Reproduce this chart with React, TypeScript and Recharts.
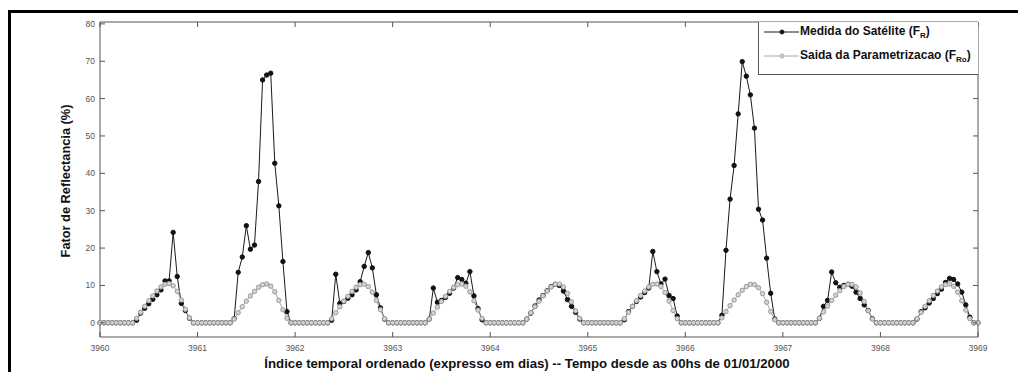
import { LineChart, Line, XAxis, YAxis } from "recharts"

// hourly values (h0..h23) per day
const days = [3960, 3961, 3962, 3963, 3964, 3965, 3966, 3967, 3968]

const sat3960 = [0, 0, 0, 0, 0, 0, 0, 0, 0, 0.7, 2.6, 3.9, 5.1, 6.3, 7.5, 8.8, 11.2, 11.2, 24.2, 12.4, 5.2, 3.3, 1.2, 0]
const sat3961 = [0, 0, 0, 0, 0, 0, 0, 0, 0, 1.1, 13.5, 17.6, 26.0, 19.7, 20.8, 37.8, 65.0, 66.3, 66.8, 42.7, 31.3, 16.4, 3.0, 0]
const sat3962 = [0, 0, 0, 0, 0, 0, 0, 0, 0, 0.7, 13.0, 5.2, 5.7, 6.6, 7.5, 8.8, 11.0, 15.1, 18.8, 14.7, 7.5, 4.0, 1.0, 0]
const sat3963 = [0, 0, 0, 0, 0, 0, 0, 0, 0, 1.0, 9.3, 5.5, 6.0, 6.8, 7.9, 9.3, 12.1, 11.6, 10.6, 13.7, 7.2, 3.8, 0.8, 0]
const sat3964 = [0, 0, 0, 0, 0, 0, 0, 0, 0, 1.0, 2.6, 4.5, 6.1, 7.3, 8.6, 9.7, 10.3, 10.0, 8.5, 6.2, 4.4, 2.8, 1.0, 0]
const sat3965 = [0, 0, 0, 0, 0, 0, 0, 0, 0, 0.8, 3.0, 4.4, 5.7, 6.9, 8.1, 9.3, 19.1, 13.7, 10.4, 11.7, 7.3, 6.5, 1.8, 0]
const sat3966 = [0, 0, 0, 0, 0, 0, 0, 0, 0, 2.0, 19.4, 33.1, 42.1, 55.9, 69.9, 66.0, 61.0, 52.1, 30.4, 27.5, 17.3, 7.9, 1.0, 0]
const sat3967 = [0, 0, 0, 0, 0, 0, 0, 0, 0, 1.2, 4.4, 6.0, 13.6, 10.7, 9.5, 10.0, 10.3, 9.8, 8.2, 6.5, 4.8, 3.3, 1.1, 0]
const sat3968 = [0, 0, 0, 0, 0, 0, 0, 0, 0, 1.0, 3.0, 4.0, 5.3, 6.5, 7.8, 9.0, 10.8, 11.9, 11.6, 10.4, 8.2, 4.8, 1.5, 0]

const par3960 = [0, 0, 0, 0, 0, 0, 0, 0, 0, 1.2, 2.8, 4.4, 5.9, 7.2, 8.5, 9.6, 10.3, 10.5, 9.9, 8.4, 6.1, 3.6, 1.3, 0]
const par3961 = [0, 0, 0, 0, 0, 0, 0, 0, 0, 1.0, 2.7, 4.3, 5.8, 7.2, 8.4, 9.5, 10.2, 10.4, 9.8, 8.3, 6.0, 3.5, 1.2, 0]
const par3962 = [0, 0, 0, 0, 0, 0, 0, 0, 0, 1.1, 2.7, 4.3, 5.8, 7.1, 8.4, 9.5, 10.2, 10.3, 9.7, 8.2, 6.0, 3.5, 1.1, 0]
const par3963 = [0, 0, 0, 0, 0, 0, 0, 0, 0, 1.0, 2.6, 4.2, 5.7, 7.1, 8.4, 9.5, 10.2, 10.4, 9.8, 8.3, 5.9, 3.4, 1.2, 0]
const par3964 = [0, 0, 0, 0, 0, 0, 0, 0, 0, 1.0, 2.7, 4.3, 5.8, 7.2, 8.5, 9.6, 10.3, 10.4, 9.6, 7.9, 5.6, 3.2, 1.2, 0]
const par3965 = [0, 0, 0, 0, 0, 0, 0, 0, 0, 1.1, 2.8, 4.4, 5.9, 7.3, 8.5, 9.6, 10.3, 10.4, 9.7, 8.1, 5.8, 3.3, 1.1, 0]
const par3966 = [0, 0, 0, 0, 0, 0, 0, 0, 0, 1.3, 3.0, 4.6, 6.1, 7.5, 8.7, 9.7, 10.3, 10.2, 9.4, 7.8, 5.5, 3.0, 0.8, 0]
const par3967 = [0, 0, 0, 0, 0, 0, 0, 0, 0, 1.2, 2.9, 4.5, 6.0, 7.4, 8.6, 9.7, 10.3, 10.3, 9.6, 8.0, 5.7, 3.2, 1.0, 0]
const par3968 = [0, 0, 0, 0, 0, 0, 0, 0, 0, 1.1, 2.8, 4.4, 5.9, 7.3, 8.5, 9.6, 10.2, 10.4, 9.8, 8.2, 5.9, 3.4, 1.1, 0]

const satByDay = [sat3960, sat3961, sat3962, sat3963, sat3964, sat3965, sat3966, sat3967, sat3968]
const parByDay = [par3960, par3961, par3962, par3963, par3964, par3965, par3966, par3967, par3968]

const xTicks = [3960, 3961, 3962, 3963, 3964, 3965, 3966, 3967, 3968, 3969]
const yTicks = [0, 10, 20, 30, 40, 50, 60, 70, 80]

const data = days
  .flatMap((day, d) =>
    satByDay[d].map((v, h) => ({ t: day + h / 24, sat: v, par: parByDay[d][h] }))
  )
  .concat([{ t: 3969, sat: 0, par: 0 }])

const font = "'Liberation Sans', Arial, Helvetica, sans-serif"
const frame = "#555"
const tickFill = "#555"

const BottomTick = ({ x, y, payload }: any) => (
  <g>
    <line x1={x} x2={x} y1={y} y2={y - 5} stroke={frame} />
    <text x={x} y={y + 14} textAnchor="middle" fontSize={8.5} fill={tickFill} fontFamily={font}>
      {payload.value}
    </text>
  </g>
)

const TopTick = ({ x, y }: any) => <line x1={x} x2={x} y1={y} y2={y + 5} stroke={frame} />

const LeftTick = ({ x, y, payload }: any) => (
  <g>
    <line x1={x} x2={x + 5} y1={y} y2={y} stroke={frame} />
    <text x={x - 5} y={y + 3} textAnchor="end" fontSize={8.5} fill={tickFill} fontFamily={font}>
      {payload.value}
    </text>
  </g>
)

const RightTick = ({ x, y }: any) => <line x1={x} x2={x - 5} y1={y} y2={y} stroke={frame} />

function LegendRow({ top, color, fill, label, sub }: any) {
  return (
    <div style={{ position: "absolute", left: 0, top, height: 14, display: "flex", alignItems: "center" }}>
      <svg width={37} height={14} style={{ marginLeft: 4 }}>
        <line x1={1} x2={36} y1={7} y2={7} stroke={color} strokeWidth={1} />
        <circle cx={19} cy={7} r={2} fill={fill} stroke={color} />
      </svg>
      <span style={{ fontSize: 12, fontWeight: "bold", color: "#111", fontFamily: font, whiteSpace: "nowrap" }}>
        {label} (F<sub style={{ fontSize: 8 }}>{sub}</sub>)
      </span>
    </div>
  )
}

export default function App() {
  return (
    <div style={{ position: "fixed", left: 0, top: 0, width: 1018, height: 372, overflow: "hidden", background: "#fff" }}>
      <div
        style={{
          position: "absolute",
          left: 8,
          top: 10,
          width: 1100,
          height: 400,
          borderLeft: "3px solid #000",
          borderTop: "3px solid #000",
        }}
      />
      <div style={{ position: "absolute", left: 0, top: 0 }}>
        <LineChart width={1018} height={372} data={data} margin={{ top: 21, right: 39, bottom: 15, left: 70 }}>
          <XAxis
            dataKey="t"
            type="number"
            domain={[3960, 3969]}
            ticks={xTicks}
            interval={0}
            height={20}
            tickSize={0}
            tickMargin={0}
            tickLine={false}
            axisLine={{ stroke: frame }}
            tick={BottomTick}
          />
          <XAxis
            xAxisId="t"
            orientation="top"
            dataKey="t"
            type="number"
            domain={[3960, 3969]}
            ticks={xTicks}
            interval={0}
            height={1}
            tickSize={0}
            tickMargin={0}
            tickLine={false}
            axisLine={{ stroke: frame }}
            tick={TopTick}
          />
          <YAxis
            type="number"
            domain={[-3.8, 80.5]}
            allowDataOverflow
            ticks={yTicks}
            interval={0}
            width={30}
            tickSize={0}
            tickMargin={0}
            tickLine={false}
            axisLine={{ stroke: frame }}
            tick={LeftTick}
          />
          <YAxis
            yAxisId="r"
            orientation="right"
            type="number"
            domain={[-3.8, 80.5]}
            allowDataOverflow
            ticks={yTicks}
            interval={0}
            width={1}
            tickSize={0}
            tickMargin={0}
            tickLine={false}
            axisLine={{ stroke: frame }}
            tick={RightTick}
          />
          <Line
            dataKey="sat"
            type="linear"
            stroke="#1a1a1a"
            strokeWidth={1}
            dot={{ r: 2.2, fill: "#111", stroke: "#111", strokeWidth: 1 }}
            activeDot={false}
            isAnimationActive={false}
          />
          <Line
            dataKey="par"
            type="linear"
            stroke="#a8a8a8"
            strokeWidth={1}
            dot={{ r: 2.2, fill: "#d4d4d4", stroke: "#9a9a9a", strokeWidth: 1 }}
            activeDot={false}
            isAnimationActive={false}
          />
          <text
            x={70}
            y={181}
            transform="rotate(-90 70 181)"
            textAnchor="middle"
            fontSize={12.8}
            fontWeight="bold"
            fill="#111"
            fontFamily={font}
          >
            Fator de Reflectancia (%)
          </text>
          <text x={527} y={368} textAnchor="middle" fontSize={13.2} fontWeight="bold" fill="#111" fontFamily={font}>
            Índice temporal ordenado (expresso em dias) -- Tempo desde as 00hs de 01/01/2000
          </text>
        </LineChart>
      </div>
      <div
        style={{
          position: "absolute",
          left: 758,
          top: 22,
          width: 220,
          height: 53,
          border: `1px solid ${frame}`,
          borderTop: "none",
          borderRight: "none",
          background: "#fff",
          boxSizing: "border-box",
        }}
      >
        <LegendRow top={3} color="#1a1a1a" fill="#111" label="Medida do Satélite" sub="R" />
        <LegendRow top={27} color="#a8a8a8" fill="#d4d4d4" label="Saida da Parametrizacao" sub="Ro" />
      </div>
    </div>
  )
}
